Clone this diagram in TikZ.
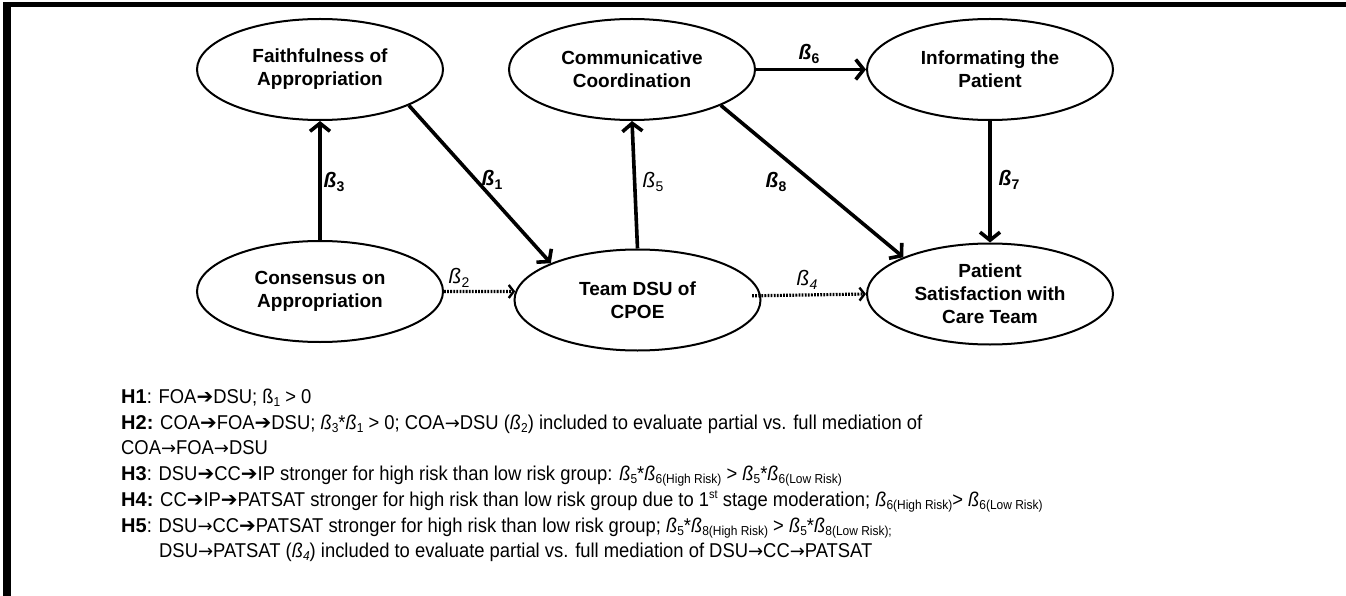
\documentclass[tikz,border=0pt]{standalone}
\usepackage{fontspec}
\setmainfont{Liberation Sans}
\newfontfamily\txtfont[FakeStretch=0.92]{Liberation Sans}
\newfontfamily\arwfont{DejaVu Sans}
\usetikzlibrary{arrows.meta,shapes.geometric,calc}

\newcommand{\harr}{{\arwfont\fontsize{20}{20}\selectfont ➔}}
\newcommand{\tarr}{{\arwfont\fontsize{18}{18}\selectfont →}}
\newcommand{\sbs}[1]{\raisebox{-0.35ex}{\fontsize{13}{13}\selectfont #1}}
\newcommand{\lsb}[1]{\raisebox{-0.3ex}{\fontsize{14}{14}\selectfont #1}}
\newcommand{\sps}[1]{\raisebox{0.75ex}{\fontsize{12}{12}\selectfont #1}}
\newcommand{\mybeta}{\textit{ß}}
\newcommand{\hlab}[1]{{\rmfamily\bfseries #1}}

\tikzset{
  ell/.style={ellipse, draw, line width=2pt, minimum width=246pt, minimum height=101pt,
    inner sep=0pt, align=center, font=\bfseries\fontsize{19}{23}\selectfont},
  arr/.style={line width=3.6pt, -{Straight Barb[length=8pt,width=20pt]}},
  dotarr/.style={line width=3.2pt, dash pattern=on 1.8pt off 1.3pt,
    -{Straight Barb[length=5pt,width=13pt,line width=2.4pt]}},
  blbl/.style={inner sep=0pt, font=\bfseries\itshape\fontsize{21}{21}\selectfont},
  ilbl/.style={inner sep=0pt, font=\itshape\fontsize{21}{21}\selectfont},
  txt/.style={anchor=base west, inner sep=0pt, font=\txtfont\fontsize{20}{26}\selectfont}
}

\begin{document}
\begin{tikzpicture}[x=1pt,y=-1pt]
\useasboundingbox (0,0) rectangle (1346,596);
\fill[black] (3,2) rectangle (11,596);
\fill[black] (3,2) rectangle (1346,7);

\node[ell] (FOA) at (320,69.5) {Faithfulness of\\Appropriation};
\node[ell] (CC)  at (632,69.5) {Communicative\\Coordination};
\node[ell] (IP)  at (990,69.5) {Informating the\\Patient};
\node[ell] (COA) at (320,291.5) {Consensus on\\Appropriation};
\node[ell] (DSU) at (637.5,300) {Team DSU of\\CPOE};
\node[ell] (PAT) at (990,294) {Patient\\Satisfaction with\\Care Team};

\draw[arr] (COA.north) -- (FOA.south);
\draw[arr] (FOA.-22.5) -- (DSU.157);
\draw[arr] (DSU.north) -- (CC.south);
\draw[arr] (CC.east) -- (IP.west);
\draw[arr] (CC.-22.6) -- (PAT.157);
\draw[arr] (IP.south) -- (PAT.north);
\draw[dotarr] (COA.east) -- (DSU.176);
\draw[dotarr, shorten <=-9pt] (DSU.2.8) -- (PAT.west);

\node[blbl] (b3) at (334,182) {ß\lsb{\upshape 3}};
\node[blbl] (b1) at (492,180) {ß\lsb{\upshape 1}};
\node[ilbl] (b5) at (653,182) {ß\lsb{\upshape 5}};
\node[blbl] (b8) at (776,182) {ß\lsb{\upshape 8}};
\node[blbl] (b6) at (809,54) {ß\lsb{\upshape 6}};
\node[blbl] (b7) at (1009,180) {ß\lsb{\upshape 7}};
\node[ilbl] (b2) at (459,278) {ß\lsb{\upshape 2}};
\node[ilbl] (b4) at (807,280) {ß\lsb{4}};

\node[txt] (h1) at (121,403) {\hlab{H1}: FOA\harr DSU; ß\sbs{1} > 0};
\node[txt] (h2) at (121,429) {\hlab{H2:} COA\harr FOA\harr DSU; \mybeta\sbs{3}*\mybeta\sbs{1} > 0; COA\tarr DSU (\mybeta\sbs{2}) included to evaluate partial vs. full mediation of};
\node[txt] (h2b) at (121,454) {COA\tarr FOA\tarr DSU};
\node[txt] (h3) at (121,480) {\hlab{H3}: DSU\harr CC\harr IP stronger for high risk than low risk group: \mybeta\sbs{5}*\mybeta\sbs{6(High Risk)} > \mybeta\sbs{5}*\mybeta\sbs{6(Low Risk)}};
\node[txt] (h4) at (121,506) {\hlab{H4:} CC\harr IP\harr PATSAT stronger for high risk than low risk group due to 1\sps{st} stage moderation; \mybeta\sbs{6(High Risk)}> \mybeta\sbs{6(Low Risk)}};
\node[txt] (h5) at (121,532) {\hlab{H5}: DSU\tarr CC\harr PATSAT stronger for high risk than low risk group; \mybeta\sbs{5}*\mybeta\sbs{8(High Risk)} > \mybeta\sbs{5}*\mybeta\sbs{8(Low Risk);}};
\node[txt] (h5b) at (159,557) {DSU\tarr PATSAT (\mybeta\sbs{\textit{4}}) included to evaluate partial vs. full mediation of DSU\tarr CC\tarr PATSAT};
\end{tikzpicture}
\end{document}
